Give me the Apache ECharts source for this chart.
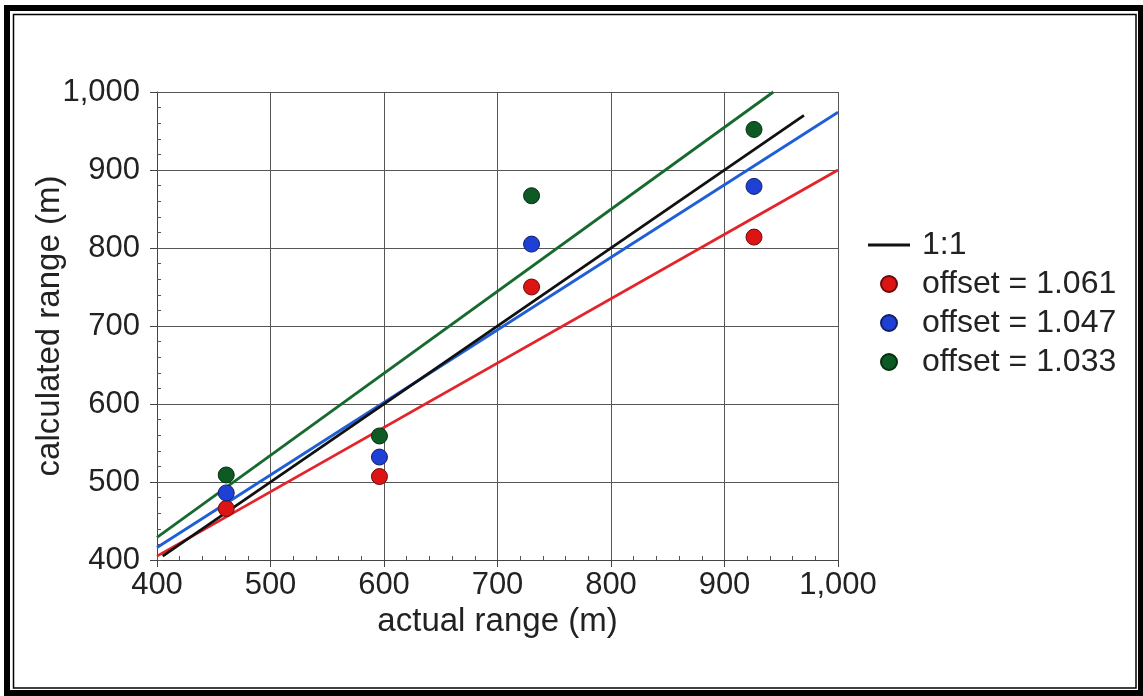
<!DOCTYPE html>
<html>
<head>
<meta charset="utf-8">
<script src="https://cdn.jsdelivr.net/npm/echarts@6/dist/echarts.min.js"></script>
<style>
    html, body {
        margin: 0;
        padding: 0;
        background: #fff;
    }

    #chart {
        width: 1143px;
        height: 696px;
    }
</style>
</head>
<body>
<div id="chart"></div>
<script>
// measured points (actual range, calculated range)
const actualRange = [461, 596, 730, 926];
const calcOffset1061 = [466, 507, 750, 814];
const calcOffset1047 = [486, 532, 805, 879];
const calcOffset1033 = [509, 559, 867, 952];

// reference and fitted lines, [x, y] end points
const lineOneToOne = [[405, 405], [970, 970]];
const fitOffset1061 = [[400, 405], [1000, 900]];
const fitOffset1047 = [[400, 416], [1000, 974]];
const fitOffset1033 = [[400, 429], [943, 1000]];

const axisTicks = [400, 500, 600, 700, 800, 900, 1000];
const legendNames = ['1:1', 'offset = 1.061', 'offset = 1.047', 'offset = 1.033'];

const font = 'Liberation Sans, Arial, sans-serif';

function pairs(xs, ys) {
    return xs.map((x, i) => [x, ys[i]]);
}

function fmt(v) {
    return Number(v).toLocaleString('en-US');
}

const chart = echarts.init(document.getElementById('chart'), null, {renderer: 'canvas'});

const option = {
    backgroundColor: '#fff',
    animation: false,
    textStyle: {fontFamily: font},
    grid: {left: 157, right: 305, top: 92, bottom: 136, containLabel: false},
    graphic: [
        {
            type: 'rect',
            shape: {x: 7, y: 8, width: 1134, height: 685},
            style: {fill: 'none', stroke: '#000', lineWidth: 6},
            silent: true
        },
        {
            type: 'rect',
            shape: {x: 13.5, y: 14.5, width: 1122.5, height: 673.5},
            style: {fill: 'none', stroke: '#000', lineWidth: 1.5},
            silent: true
        }
    ],
    legend: {
        // the 1:1 entry gets a plain line icon, no marker
        data: legendNames.map((n, i) => i === 0 ? {name: n, icon: 'path://M0,0L42,0L42,3.2L0,3.2Z'} : n),
        orient: 'vertical',
        left: 863,
        top: 224,
        itemWidth: 42,
        itemHeight: 16,
        itemGap: 7,
        textStyle: {
            fontFamily: font,
            fontSize: 32,
            lineHeight: 31,
            color: '#222',
            padding: [0, 0, 0, 7]
        }
    },
    xAxis: [
        {
            type: 'value',
            position: 'bottom',
            min: axisTicks[0],
            max: axisTicks[axisTicks.length - 1],
            interval: 100,
            name: 'actual range (m)',
            nameLocation: 'middle',
            nameGap: 45,
            nameMoveOverlap: false,
            nameTextStyle: {fontFamily: font, fontSize: 33, color: '#222'},
            axisLine: {show: true, lineStyle: {color: '#444', width: 1}},
            axisTick: {show: true, inside: false, length: 7, lineStyle: {color: '#444'}},
            axisLabel: {
                margin: 10,
                fontFamily: font,
                fontSize: 31,
                color: '#222',
                formatter: fmt
            },
            splitLine: {show: true, lineStyle: {color: '#555', width: 1}}
        },
        {
            // minor ticks, pointing into the plot
            type: 'value',
            position: 'bottom',
            min: 400,
            max: 1000,
            interval: 20,
            axisLine: {show: false},
            axisTick: {show: true, inside: true, length: 4, lineStyle: {color: '#555'}},
            axisLabel: {show: false},
            splitLine: {show: false}
        }
    ],
    yAxis: [
        {
            type: 'value',
            position: 'left',
            min: axisTicks[0],
            max: axisTicks[axisTicks.length - 1],
            interval: 100,
            name: 'calculated range (m)',
            nameLocation: 'middle',
            nameGap: 91,
            nameMoveOverlap: false,
            nameTextStyle: {fontFamily: font, fontSize: 33, color: '#222'},
            axisLine: {show: true, lineStyle: {color: '#444', width: 1}},
            axisTick: {show: true, inside: false, length: 7, lineStyle: {color: '#444'}},
            axisLabel: {
                margin: 17,
                fontFamily: font,
                fontSize: 31,
                color: '#222',
                formatter: fmt
            },
            splitLine: {show: true, lineStyle: {color: '#555', width: 1}}
        },
        {
            type: 'value',
            position: 'left',
            min: 400,
            max: 1000,
            interval: 20,
            axisLine: {show: false},
            axisTick: {show: true, inside: true, length: 4, lineStyle: {color: '#555'}},
            axisLabel: {show: false},
            splitLine: {show: false}
        }
    ],
    series: [
        {
            name: 'fit 1.061',
            type: 'line',
            data: fitOffset1061,
            symbol: 'none',
            lineStyle: {color: '#e3242b', width: 2.8},
            z: 2
        },
        {
            name: 'fit 1.047',
            type: 'line',
            data: fitOffset1047,
            symbol: 'none',
            lineStyle: {color: '#1f5fd6', width: 2.8},
            z: 2
        },
        {
            name: 'fit 1.033',
            type: 'line',
            data: fitOffset1033,
            symbol: 'none',
            lineStyle: {color: '#176a2e', width: 2.8},
            z: 2
        },
        {
            name: '1:1',
            type: 'line',
            data: lineOneToOne,
            symbol: 'none',
            itemStyle: {color: '#111'},
            lineStyle: {color: '#111', width: 2.8},
            z: 3
        },
        {
            name: 'offset = 1.061',
            type: 'scatter',
            data: pairs(actualRange, calcOffset1061),
            symbol: 'circle',
            symbolSize: 16,
            itemStyle: {color: '#dd1414', borderColor: '#6e0a0a', borderWidth: 1, opacity: 1},
            z: 5
        },
        {
            name: 'offset = 1.047',
            type: 'scatter',
            data: pairs(actualRange, calcOffset1047),
            symbol: 'circle',
            symbolSize: 16,
            itemStyle: {color: '#1e40d4', borderColor: '#101f6a', borderWidth: 1, opacity: 1},
            z: 5
        },
        {
            name: 'offset = 1.033',
            type: 'scatter',
            data: pairs(actualRange, calcOffset1033),
            symbol: 'circle',
            symbolSize: 16,
            itemStyle: {color: '#0e5a24', borderColor: '#05300f', borderWidth: 1, opacity: 1},
            z: 5
        }
    ]
};

chart.setOption(option);
</script>
</body>
</html>
